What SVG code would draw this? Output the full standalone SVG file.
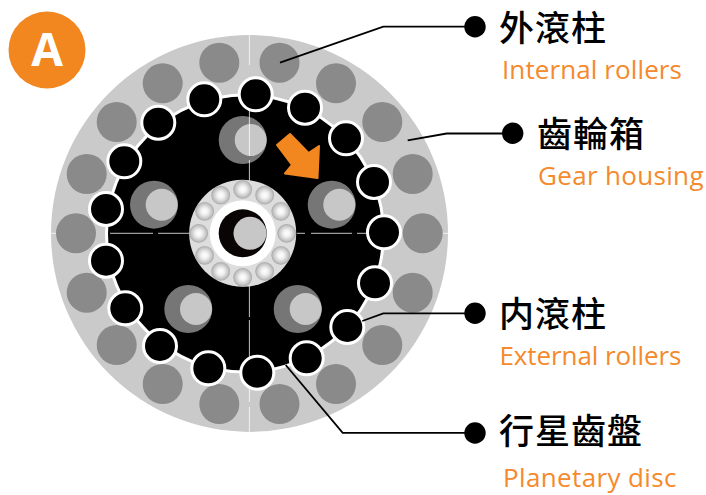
<svg xmlns="http://www.w3.org/2000/svg" width="706" height="495" viewBox="0 0 706 495">
<defs>
<radialGradient id="ball"><stop offset="0" stop-color="#ffffff"/><stop offset="0.35" stop-color="#f2f2f2"/><stop offset="0.8" stop-color="#c4c4c4"/><stop offset="1" stop-color="#a6a6a6"/></radialGradient>
</defs>
<style>
.out{fill:#8a8a8a}
.roller{fill:#000;stroke:#fff;stroke-width:3}
.crank{fill:#767676}
.pin{fill:#c6c7c6}
.ball{fill:url(#ball)}
.lead{fill:none;stroke:#000;stroke-width:1.8}
.cn{font-family:"Noto Sans CJK TC","Noto Sans CJK SC",sans-serif;font-size:35px;font-weight:500;letter-spacing:1px;fill:#000}
.en{font-family:"Open Sans","Noto Sans",sans-serif;font-size:26px;fill:#f48a2c}
.dash{stroke:#fff;stroke-width:0.9;stroke-opacity:.85;fill:none}
</style>
<rect width="706" height="495" fill="#fff"/>
<g id="badge"><circle cx="47" cy="50" r="38.5" fill="#f2861f"/><text x="47" y="66" text-anchor="middle" font-family="'Open Sans',sans-serif" font-weight="700" font-size="46" fill="#fff">A</text></g>
<g id="gear-housing"><circle cx="249.5" cy="233.4" r="198.5" fill="#c9cac9"/><path class="dash" d="M51 233.3H58M441 233.3H448M249.4 35V65M249.4 388V402M249.4 407V432"/></g>
<g id="internal-rollers">
<circle class="out" cx="422.7" cy="233.3" r="20"/><circle class="out" cx="412.7" cy="174" r="20"/><circle class="out" cx="382.3" cy="122" r="20"/><circle class="out" cx="336" cy="83.3" r="20"/><circle class="out" cx="279.5" cy="62.7" r="20"/><circle class="out" cx="219.3" cy="62.7" r="20"/><circle class="out" cx="162.7" cy="83.3" r="20"/><circle class="out" cx="116.7" cy="122" r="20"/><circle class="out" cx="86.7" cy="174" r="20"/><circle class="out" cx="76" cy="233.3" r="20"/><circle class="out" cx="86.7" cy="292.7" r="20"/><circle class="out" cx="116.7" cy="345" r="20"/><circle class="out" cx="162.7" cy="384" r="20"/><circle class="out" cx="219.3" cy="404" r="20"/><circle class="out" cx="279.5" cy="404" r="20"/><circle class="out" cx="336" cy="384" r="20"/><circle class="out" cx="382.3" cy="345" r="20"/><circle class="out" cx="412.7" cy="292.7" r="20"/>
</g>
<g id="planetary-disc"><circle cx="245" cy="233.5" r="138.5" fill="#000" stroke="#fff" stroke-width="3"/></g>
<g id="cranks">
<circle class="crank" cx="242.7" cy="140" r="24"/><circle class="pin" cx="250.7" cy="140" r="16"/>
<circle class="crank" cx="154" cy="204.7" r="24"/><circle class="pin" cx="161.7" cy="204.7" r="16"/>
<circle class="crank" cx="331.7" cy="204.7" r="24"/><circle class="pin" cx="339.3" cy="204.7" r="16"/>
<circle class="crank" cx="188.3" cy="309" r="24"/><circle class="pin" cx="196" cy="309" r="16"/>
<circle class="crank" cx="297.7" cy="309" r="24"/><circle class="pin" cx="305.7" cy="309" r="16"/>
</g>
<g id="center-lines"><path class="dash" d="M105 233.3H108M110 233.3H153M158 233.3H190M297 233.3H305M311 233.3H352M357 233.3H372M249.4 110V156M249.4 160V182M249.4 285V317M249.4 320V358"/></g>
<g id="external-rollers">
<circle class="roller" cx="106" cy="209" r="16.5"/><circle class="roller" cx="124.3" cy="161.3" r="16.5"/><circle class="roller" cx="158.3" cy="122.7" r="16.5"/><circle class="roller" cx="204.3" cy="99.3" r="16.5"/><circle class="roller" cx="255.7" cy="94.3" r="16.5"/><circle class="roller" cx="305" cy="107.7" r="16.5"/><circle class="roller" cx="346" cy="138.3" r="16.5"/><circle class="roller" cx="374" cy="182" r="16.5"/><circle class="roller" cx="384" cy="232.3" r="16.5"/><circle class="roller" cx="375" cy="283.3" r="16.5"/><circle class="roller" cx="347.3" cy="327" r="16.5"/><circle class="roller" cx="306.7" cy="358.3" r="16.5"/><circle class="roller" cx="257.3" cy="372.7" r="16.5"/><circle class="roller" cx="208.3" cy="368.3" r="16.5"/><circle class="roller" cx="160" cy="346" r="16.5"/><circle class="roller" cx="125.3" cy="308.3" r="16.5"/><circle class="roller" cx="106" cy="260.7" r="16.5"/>
</g>
<g id="bearing">
<circle cx="242.7" cy="233.3" r="53.5" fill="#dcdddc"/>
<circle class="ball" cx="242.7" cy="189.3" r="9.4"/><circle class="ball" cx="264.7" cy="195.2" r="9.4"/><circle class="ball" cx="280.8" cy="211.3" r="9.4"/><circle class="ball" cx="286.7" cy="233.3" r="9.4"/><circle class="ball" cx="280.8" cy="255.3" r="9.4"/><circle class="ball" cx="264.7" cy="271.4" r="9.4"/><circle class="ball" cx="242.7" cy="277.3" r="9.4"/><circle class="ball" cx="220.7" cy="271.4" r="9.4"/><circle class="ball" cx="204.6" cy="255.3" r="9.4"/><circle class="ball" cx="198.7" cy="233.3" r="9.4"/><circle class="ball" cx="204.6" cy="211.3" r="9.4"/><circle class="ball" cx="220.7" cy="195.2" r="9.4"/>
<circle cx="242.7" cy="233.3" r="33" fill="#fff"/>
<circle cx="242.7" cy="233.3" r="24" fill="#0a0505"/>
<circle class="pin" cx="250" cy="233.3" r="16.5"/>
</g>
<g id="arrow"><polygon points="290,134 277,145 292,165 285,173.5 317.5,178 319,146 308.5,153" fill="#f2861f" stroke="#f2861f" stroke-width="2" stroke-linejoin="round"/></g>
<g id="connectors">
<path class="lead" d="M280 62.7L383.3 26.7H475"/>
<path class="lead" d="M407.7 140.3L446.7 133.5H512"/>
<path class="lead" d="M362.3 321L383.3 313.3H475"/>
<path class="lead" d="M285.7 365L342.7 432.9H475"/>
<circle cx="475" cy="26.7" r="10.7"/><circle cx="512.7" cy="133.3" r="10.7"/><circle cx="475" cy="313.3" r="10.7"/><circle cx="475" cy="433" r="10.7"/>
</g>
<g id="label-1"><text class="cn" x="499" y="40.6">外滾柱</text><text class="en" x="502" y="79.3" textLength="180" lengthAdjust="spacing">Internal rollers</text></g>
<g id="label-2"><text class="cn" x="537" y="147">齒輪箱</text><text class="en" x="538" y="185" textLength="165.5" lengthAdjust="spacing">Gear housing</text></g>
<g id="label-3"><text class="cn" x="499" y="327">内滾柱</text><text class="en" x="499.5" y="364.7" textLength="182" lengthAdjust="spacing">External rollers</text></g>
<g id="label-4"><text class="cn" x="499" y="444">行星齒盤</text><text class="en" x="503" y="487.3" textLength="173.5" lengthAdjust="spacing">Planetary disc</text></g>
</svg>
